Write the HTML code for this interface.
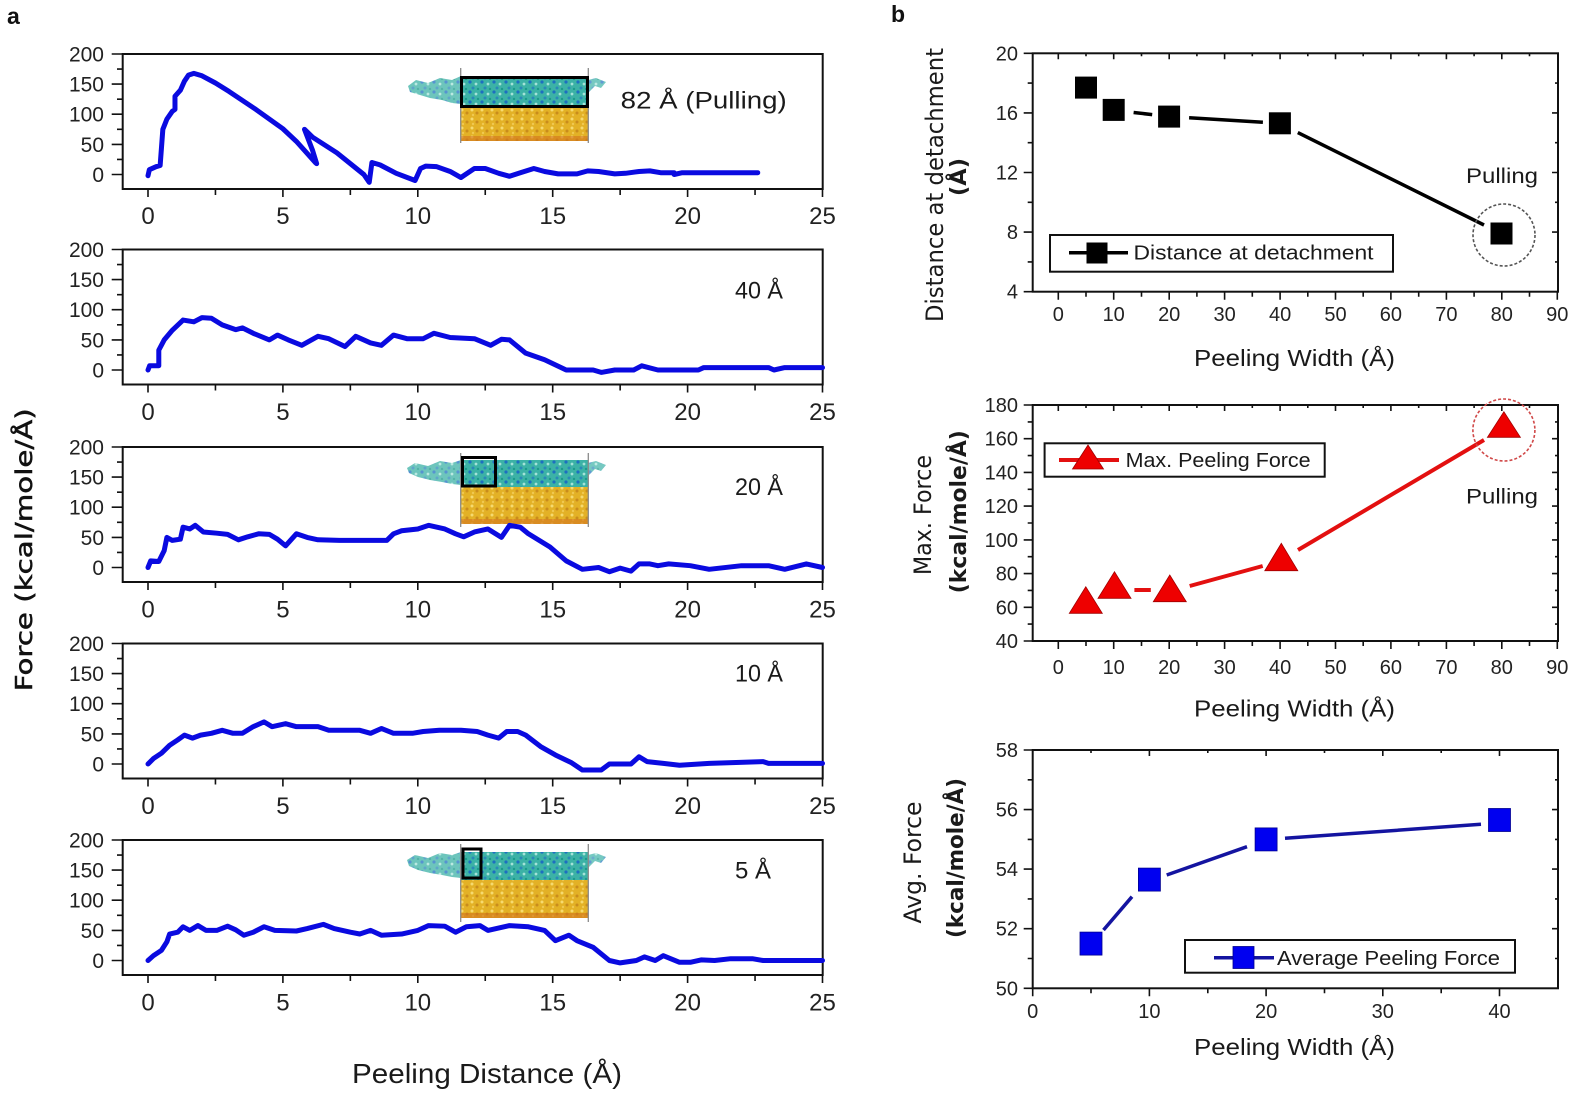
<!DOCTYPE html>
<html><head><meta charset="utf-8"><style>
html,body{margin:0;padding:0;background:#fff;}
svg{display:block;}
.tk{font-family:"Liberation Sans",sans-serif;fill:#222;}
</style></head><body>
<svg width="1575" height="1099" viewBox="0 0 1575 1099" xmlns="http://www.w3.org/2000/svg">
<defs>
<pattern id="cy" width="12" height="10" patternUnits="userSpaceOnUse">
<rect width="12" height="10" fill="#3cb2a6"/>
<circle cx="2" cy="2" r="1.6" fill="#1d6fc0"/>
<circle cx="8" cy="4" r="1.4" fill="#a4e2d8"/>
<circle cx="5" cy="8" r="1.5" fill="#2a88b8"/>
<circle cx="10" cy="9" r="1.2" fill="#1b9a8a"/>
</pattern>
<pattern id="au" width="10" height="9" patternUnits="userSpaceOnUse">
<rect width="10" height="9" fill="#e3b126"/>
<circle cx="2" cy="2" r="1.5" fill="#f6da70"/>
<circle cx="7" cy="5" r="1.5" fill="#c98c1c"/>
<circle cx="3" cy="7" r="1.2" fill="#f0c850"/>
</pattern>
</defs>
<rect width="1575" height="1099" fill="#fff"/>

<!-- panel labels -->
<text x="7" y="24" font-family="Liberation Sans,sans-serif" font-weight="bold" font-size="23" fill="#111">a</text>
<text x="891" y="22" font-family="Liberation Sans,sans-serif" font-weight="bold" font-size="23" fill="#111">b</text>

<!-- ============ LEFT PANEL ============ -->
<g stroke="#111" fill="none">
<!-- plot boxes -->
<rect x="122.7" y="54" width="700" height="135" stroke-width="2"/>
<rect x="122.7" y="249.5" width="700" height="135" stroke-width="2"/>
<rect x="122.7" y="447" width="700" height="135" stroke-width="2"/>
<rect x="122.7" y="643.5" width="700" height="135" stroke-width="2"/>
<rect x="122.7" y="840" width="700" height="135" stroke-width="2"/>
</g>
<g stroke="#111" stroke-width="1.6">
<!-- P1 y ticks -->
<path d="M111.7 54H122.7M111.7 84.1H122.7M111.7 114.2H122.7M111.7 144.4H122.7M111.7 174.5H122.7M117 69.05H122.7M117 99.15H122.7M117 129.3H122.7M117 159.45H122.7"/>
<path d="M148 189V197M282.9 189V197M417.8 189V197M552.7 189V197M687.6 189V197M822.5 189V197M215.45 189V195M350.35 189V195M485.25 189V195M620.15 189V195M755.05 189V195"/>
<!-- P2 -->
<path d="M111.7 249.5H122.7M111.7 279.6H122.7M111.7 309.7H122.7M111.7 339.9H122.7M111.7 370H122.7M117 264.55H122.7M117 294.65H122.7M117 324.8H122.7M117 354.95H122.7"/>
<path d="M148 384.5V392.5M282.9 384.5V392.5M417.8 384.5V392.5M552.7 384.5V392.5M687.6 384.5V392.5M822.5 384.5V392.5M215.45 384.5V390.5M350.35 384.5V390.5M485.25 384.5V390.5M620.15 384.5V390.5M755.05 384.5V390.5"/>
<!-- P3 -->
<path d="M111.7 447H122.7M111.7 477.1H122.7M111.7 507.2H122.7M111.7 537.4H122.7M111.7 567.5H122.7M117 462.05H122.7M117 492.15H122.7M117 522.3H122.7M117 552.45H122.7"/>
<path d="M148 582V590M282.9 582V590M417.8 582V590M552.7 582V590M687.6 582V590M822.5 582V590M215.45 582V588M350.35 582V588M485.25 582V588M620.15 582V588M755.05 582V588"/>
<!-- P4 -->
<path d="M111.7 643.5H122.7M111.7 673.6H122.7M111.7 703.7H122.7M111.7 733.9H122.7M111.7 764H122.7M117 658.55H122.7M117 688.65H122.7M117 718.8H122.7M117 748.95H122.7"/>
<path d="M148 778.5V786.5M282.9 778.5V786.5M417.8 778.5V786.5M552.7 778.5V786.5M687.6 778.5V786.5M822.5 778.5V786.5M215.45 778.5V784.5M350.35 778.5V784.5M485.25 778.5V784.5M620.15 778.5V784.5M755.05 778.5V784.5"/>
<!-- P5 -->
<path d="M111.7 840H122.7M111.7 870.1H122.7M111.7 900.2H122.7M111.7 930.4H122.7M111.7 960.5H122.7M117 855.05H122.7M117 885.15H122.7M117 915.3H122.7M117 945.45H122.7"/>
<path d="M148 975V983M282.9 975V983M417.8 975V983M552.7 975V983M687.6 975V983M822.5 975V983M215.45 975V981M350.35 975V981M485.25 975V981M620.15 975V981M755.05 975V981"/>
</g>

<!-- Left y tick labels -->
<g class="tk" font-size="21" text-anchor="end">
<text x="104" y="61.5">200</text><text x="104" y="91.6">150</text><text x="104" y="121.7">100</text><text x="104" y="151.9">50</text><text x="104" y="182">0</text>
<text x="104" y="257">200</text><text x="104" y="287.1">150</text><text x="104" y="317.2">100</text><text x="104" y="347.4">50</text><text x="104" y="377.5">0</text>
<text x="104" y="454.5">200</text><text x="104" y="484.6">150</text><text x="104" y="514.7">100</text><text x="104" y="544.9">50</text><text x="104" y="575">0</text>
<text x="104" y="651">200</text><text x="104" y="681.1">150</text><text x="104" y="711.2">100</text><text x="104" y="741.4">50</text><text x="104" y="771.5">0</text>
<text x="104" y="847.5">200</text><text x="104" y="877.6">150</text><text x="104" y="907.7">100</text><text x="104" y="937.9">50</text><text x="104" y="968">0</text>
</g>
<!-- Left x tick labels -->
<g class="tk" font-size="24" text-anchor="middle">
<text x="148" y="224">0</text><text x="282.9" y="224">5</text><text x="417.8" y="224">10</text><text x="552.7" y="224">15</text><text x="687.6" y="224">20</text><text x="822.5" y="224">25</text>
<text x="148" y="420">0</text><text x="282.9" y="420">5</text><text x="417.8" y="420">10</text><text x="552.7" y="420">15</text><text x="687.6" y="420">20</text><text x="822.5" y="420">25</text>
<text x="148" y="617.5">0</text><text x="282.9" y="617.5">5</text><text x="417.8" y="617.5">10</text><text x="552.7" y="617.5">15</text><text x="687.6" y="617.5">20</text><text x="822.5" y="617.5">25</text>
<text x="148" y="814">0</text><text x="282.9" y="814">5</text><text x="417.8" y="814">10</text><text x="552.7" y="814">15</text><text x="687.6" y="814">20</text><text x="822.5" y="814">25</text>
<text x="148" y="1010.5">0</text><text x="282.9" y="1010.5">5</text><text x="417.8" y="1010.5">10</text><text x="552.7" y="1010.5">15</text><text x="687.6" y="1010.5">20</text><text x="822.5" y="1010.5">25</text>
</g>

<!-- Insets -->
<!-- P1 inset -->
<g>
<polygon points="408,86 416,80 428,83 440,78 452,80 461,76 461,104 452,103 442,100 430,98 420,95 410,92" fill="url(#cy)" opacity="0.75"/>
<polygon points="588,80 596,78 606,82 601,88 595,86 588,93" fill="url(#cy)" opacity="0.7"/>
<rect x="461" y="76" width="127" height="31" fill="url(#cy)"/>
<rect x="461" y="107" width="127" height="34" fill="url(#au)"/>
<rect x="461" y="136" width="127" height="5" fill="#d2731e" opacity="0.6"/>
<path d="M460.7 68V143M588.3 68V143" stroke="#8a8a8a" stroke-width="1.3"/>
<rect x="461.5" y="77.5" width="126" height="29" fill="none" stroke="#000" stroke-width="3"/>
</g>
<!-- P3 inset -->
<g>
<polygon points="407,468 415,463 428,466 440,461 452,463 461,460 461,485 452,484 442,482 430,480 418,477 409,473" fill="url(#cy)" opacity="0.75"/>
<polygon points="588,463 596,461 606,465 601,471 595,469 588,476" fill="url(#cy)" opacity="0.7"/>
<rect x="461" y="460" width="127" height="27" fill="url(#cy)"/>
<rect x="461" y="487" width="127" height="37" fill="url(#au)"/>
<rect x="461" y="519" width="127" height="5" fill="#d2731e" opacity="0.6"/>
<path d="M460.7 453V527M588.3 453V527" stroke="#8a8a8a" stroke-width="1.3"/>
<rect x="462.5" y="457.5" width="33" height="28.5" fill="none" stroke="#000" stroke-width="3"/>
</g>
<!-- P5 inset -->
<g>
<polygon points="407,860 415,855 428,858 440,853 452,855 461,852 461,878 452,877 442,875 430,873 418,870 409,866" fill="url(#cy)" opacity="0.75"/>
<polygon points="588,855 596,853 606,857 601,863 595,861 588,868" fill="url(#cy)" opacity="0.7"/>
<rect x="461" y="852" width="127" height="28" fill="url(#cy)"/>
<rect x="461" y="880" width="127" height="38" fill="url(#au)"/>
<rect x="461" y="913" width="127" height="5" fill="#d2731e" opacity="0.6"/>
<path d="M460.7 844V922M588.3 844V922" stroke="#8a8a8a" stroke-width="1.3"/>
<rect x="463" y="849" width="18" height="29" fill="none" stroke="#000" stroke-width="3"/>
</g>

<!-- Curves -->
<g fill="none" stroke="#0a0ae0" stroke-width="5" stroke-linejoin="round" stroke-linecap="round">
<polyline vector-effect="non-scaling-stroke" transform="translate(148,174.5) scale(26.98,-0.602)" points="0,-2 0.05,8 0.3,13 0.45,15 0.5,45 0.55,75 0.7,92 0.9,105 1.0,108 1.0,130 1.2,140 1.35,155 1.5,165 1.7,168 2.0,164 2.5,152 3,138 4,108 5,76 5.5,55 6.2,20 6.25,18 6.1,40 5.8,75 6.1,62 7,36 8,0 8.2,-13 8.3,20 8.6,16 9.2,2 9.9,-10 10.1,10 10.3,14 10.7,13 11.2,5 11.6,-5 12.1,10 12.5,10 13,2 13.4,-3 13.8,3 14.3,10 14.7,5 15.2,1 15.9,1 16.3,6 16.7,5 17.3,1 17.7,2 18.2,5 18.6,6 19,3 19.5,3 19.5,0 19.8,3 22.6,3"/>
<polyline vector-effect="non-scaling-stroke" transform="translate(148,370) scale(26.98,-0.602)" points="0,0 0.06,7 0.4,7 0.4,33 0.6,50 0.9,66 1.3,83 1.7,80 2,87 2.35,86 2.75,75 3.25,67 3.5,70 3.9,61 4.5,50 4.8,58 5.2,50 5.7,41 6.3,56 6.7,52 7.3,39 7.7,56 8.25,45 8.65,41 9.1,58 9.6,52 10.2,52 10.6,61 11.2,54 12.1,52 12.7,41 13.1,51 13.4,50 14,28 14.7,17 15.5,0 16.5,0 16.8,-4 17.3,0 18,0 18.3,7 18.9,0 20.4,0 20.6,4 23,4 23.2,0 23.6,4 25,4"/>
<polyline vector-effect="non-scaling-stroke" transform="translate(148,567.5) scale(26.98,-0.602)" points="0,0 0.1,11 0.4,10 0.6,28 0.7,50 0.9,45 1.2,47 1.3,67 1.55,64 1.75,70 2.05,59 2.55,57 2.95,55 3.35,46 3.7,51 4.1,56 4.5,55 4.8,47 5.1,36 5.5,56 5.9,50 6.3,46 7.1,45 8.85,45 9.1,56 9.4,61 10,64 10.4,70 11,64 11.4,56 11.7,51 12.1,59 12.6,64 13.1,50 13.4,70 13.8,67 14.1,56 14.9,34 15.5,11 16.1,-3 16.7,0 17.1,-7 17.5,-1 17.9,-6 18.2,6 18.6,6 18.9,3 19.3,6 20.1,3 20.8,-3 22,3 23,3 23.6,-3 24.4,6 25,0"/>
<polyline vector-effect="non-scaling-stroke" transform="translate(148,764) scale(26.98,-0.602)" points="0,0 0.2,9 0.5,18 0.8,31 1.1,40 1.35,48 1.65,43 1.95,48 2.35,51 2.75,56 3.15,51 3.5,51 3.9,62 4.3,70 4.6,62 5.1,67 5.5,62 6.3,62 6.7,56 7.85,56 8.25,51 8.65,59 9.1,51 9.8,51 10.2,54 10.8,56 11.6,56 12.2,54 12.6,48 13,43 13.3,54 13.7,54 14,48 14.55,29 15.1,15 15.7,2 16.1,-10 16.8,-10 17.1,0 17.9,0 18.2,12 18.5,4 19.1,1 19.7,-2 20.8,1 22.8,4 23,1 25,1"/>
<polyline vector-effect="non-scaling-stroke" transform="translate(148,960.5) scale(26.98,-0.602)" points="0,0 0.2,8 0.5,17 0.7,31 0.8,44 1.1,47 1.3,56 1.55,50 1.85,58 2.15,50 2.55,50 2.95,57 3.25,51 3.55,42 3.9,47 4.3,56 4.7,50 5.5,49 5.9,53 6.5,60 6.9,53 7.5,47 7.85,44 8.25,50 8.65,42 9.4,44 10,50 10.4,58 11,57 11.4,47 11.8,56 12.3,58 12.6,50 13.4,58 14.1,56 14.7,50 15.1,33 15.6,42 15.9,33 16.5,22 17.1,0 17.5,-4 18.1,0 18.4,6 18.8,0 19.1,8 19.7,-3 20.1,-3 20.5,1 21,0 21.6,3 22.4,3 22.8,0 25,0"/>
</g>

<!-- Left labels -->
<g font-family="Liberation Sans,sans-serif" fill="#1a1a1a">
<text x="620.7" y="108.3" font-size="24" textLength="166" lengthAdjust="spacingAndGlyphs">82 Å (Pulling)</text>
<text x="735" y="298.3" font-size="24" textLength="48" lengthAdjust="spacingAndGlyphs">40 Å</text>
<text x="735" y="495" font-size="24" textLength="48" lengthAdjust="spacingAndGlyphs">20 Å</text>
<text x="735" y="681.7" font-size="24" textLength="48" lengthAdjust="spacingAndGlyphs">10 Å</text>
<text x="735" y="878.3" font-size="24" textLength="36" lengthAdjust="spacingAndGlyphs">5 Å</text>
<text x="352" y="1083" font-size="28" textLength="270" lengthAdjust="spacingAndGlyphs">Peeling Distance (Å)</text>
</g>
<text transform="translate(32,549.8) rotate(-90)" text-anchor="middle" font-family="DejaVu Sans,sans-serif" font-size="23" fill="#111" stroke="#111" stroke-width="0.5" textLength="283" lengthAdjust="spacingAndGlyphs">Force (kcal/mole/Å)</text>

<!-- ============ RIGHT PANEL ============ -->
<g stroke="#111" fill="none" stroke-width="2">
<rect x="1032.7" y="53.3" width="525.3" height="238.4"/>
<rect x="1032.7" y="405" width="525.3" height="236"/>
<rect x="1032.7" y="750" width="525.3" height="238.3"/>
</g>
<g stroke="#111" stroke-width="1.6">
<!-- R1 y ticks -->
<path d="M1023.7 291.7H1032.7M1023.7 232.1H1032.7M1023.7 172.5H1032.7M1023.7 112.9H1032.7M1023.7 53.3H1032.7M1027.7 261.9H1032.7M1027.7 202.3H1032.7M1027.7 142.7H1032.7M1027.7 83.1H1032.7"/>
<path d="M1558 232.1H1552M1558 172.5H1552M1558 112.9H1552M1558 261.9H1555M1558 202.3H1555M1558 142.7H1555M1558 83.1H1555"/>
<path d="M1058.3 291.7V299.7M1113.7 291.7V299.7M1169.2 291.7V299.7M1224.6 291.7V299.7M1280.1 291.7V299.7M1335.5 291.7V299.7M1390.9 291.7V299.7M1446.4 291.7V299.7M1501.8 291.7V299.7M1557.3 291.7V299.7M1086 291.7V296.7M1141.5 291.7V296.7M1196.9 291.7V296.7M1252.3 291.7V296.7M1307.8 291.7V296.7M1363.2 291.7V296.7M1418.7 291.7V296.7M1474.1 291.7V296.7M1529.5 291.7V296.7"/>
<path d="M1058.3 53.3V59.3M1113.7 53.3V59.3M1169.2 53.3V59.3M1224.6 53.3V59.3M1280.1 53.3V59.3M1335.5 53.3V59.3M1390.9 53.3V59.3M1446.4 53.3V59.3M1501.8 53.3V59.3M1086 53.3V56.3M1141.5 53.3V56.3M1196.9 53.3V56.3M1252.3 53.3V56.3M1307.8 53.3V56.3M1363.2 53.3V56.3M1418.7 53.3V56.3M1474.1 53.3V56.3M1529.5 53.3V56.3"/>
<!-- R2 -->
<path d="M1023.7 641H1032.7M1023.7 607.3H1032.7M1023.7 573.6H1032.7M1023.7 539.9H1032.7M1023.7 506.1H1032.7M1023.7 472.4H1032.7M1023.7 438.7H1032.7M1023.7 405H1032.7M1027.7 624.1H1032.7M1027.7 590.4H1032.7M1027.7 556.7H1032.7M1027.7 523H1032.7M1027.7 489.3H1032.7M1027.7 455.6H1032.7M1027.7 421.9H1032.7"/>
<path d="M1558 607.3H1552M1558 573.6H1552M1558 539.9H1552M1558 506.1H1552M1558 472.4H1552M1558 438.7H1552M1558 624.1H1555M1558 590.4H1555M1558 556.7H1555M1558 523H1555M1558 489.3H1555M1558 455.6H1555M1558 421.9H1555"/>
<path d="M1058.3 641V649M1113.7 641V649M1169.2 641V649M1224.6 641V649M1280.1 641V649M1335.5 641V649M1390.9 641V649M1446.4 641V649M1501.8 641V649M1557.3 641V649M1086 641V646M1141.5 641V646M1196.9 641V646M1252.3 641V646M1307.8 641V646M1363.2 641V646M1418.7 641V646M1474.1 641V646M1529.5 641V646"/>
<path d="M1058.3 405V411M1113.7 405V411M1169.2 405V411M1224.6 405V411M1280.1 405V411M1335.5 405V411M1390.9 405V411M1446.4 405V411M1501.8 405V411M1086 405V408M1141.5 405V408M1196.9 405V408M1252.3 405V408M1307.8 405V408M1363.2 405V408M1418.7 405V408M1474.1 405V408M1529.5 405V408"/>
<!-- R3 -->
<path d="M1023.7 988.3H1032.7M1023.7 928.7H1032.7M1023.7 869.1H1032.7M1023.7 809.6H1032.7M1023.7 750H1032.7M1027.7 958.5H1032.7M1027.7 898.9H1032.7M1027.7 839.4H1032.7M1027.7 779.8H1032.7"/>
<path d="M1558 928.7H1552M1558 869.1H1552M1558 809.6H1552M1558 958.5H1555M1558 898.9H1555M1558 839.4H1555M1558 779.8H1555"/>
<path d="M1032.7 988.3V996.3M1149.4 988.3V996.3M1266.1 988.3V996.3M1382.8 988.3V996.3M1499.5 988.3V996.3M1091 988.3V993.3M1207.8 988.3V993.3M1324.5 988.3V993.3M1441.2 988.3V993.3"/>
<path d="M1149.4 750V756M1266.1 750V756M1382.8 750V756M1499.5 750V756M1091 750V753M1207.8 750V753M1324.5 750V753M1441.2 750V753"/>
</g>

<!-- Right tick labels -->
<g class="tk" font-size="20" text-anchor="end">
<text x="1018" y="298.7">4</text><text x="1018" y="239.1">8</text><text x="1018" y="179.5">12</text><text x="1018" y="119.9">16</text><text x="1018" y="60.3">20</text>
<text x="1018" y="648">40</text><text x="1018" y="614.3">60</text><text x="1018" y="580.6">80</text><text x="1018" y="546.9">100</text><text x="1018" y="513.1">120</text><text x="1018" y="479.4">140</text><text x="1018" y="445.7">160</text><text x="1018" y="412">180</text>
<text x="1018" y="995.3">50</text><text x="1018" y="935.7">52</text><text x="1018" y="876.1">54</text><text x="1018" y="816.6">56</text><text x="1018" y="757">58</text>
</g>
<g class="tk" font-size="20" text-anchor="middle">
<text x="1058.3" y="321">0</text><text x="1113.7" y="321">10</text><text x="1169.2" y="321">20</text><text x="1224.6" y="321">30</text><text x="1280.1" y="321">40</text><text x="1335.5" y="321">50</text><text x="1390.9" y="321">60</text><text x="1446.4" y="321">70</text><text x="1501.8" y="321">80</text><text x="1557.3" y="321">90</text>
<text x="1058.3" y="674">0</text><text x="1113.7" y="674">10</text><text x="1169.2" y="674">20</text><text x="1224.6" y="674">30</text><text x="1280.1" y="674">40</text><text x="1335.5" y="674">50</text><text x="1390.9" y="674">60</text><text x="1446.4" y="674">70</text><text x="1501.8" y="674">80</text><text x="1557.3" y="674">90</text>
<text x="1032.7" y="1018">0</text><text x="1149.4" y="1018">10</text><text x="1266.1" y="1018">20</text><text x="1382.8" y="1018">30</text><text x="1499.5" y="1018">40</text>
</g>

<!-- R1 data -->
<g stroke="#000" stroke-width="3.5" fill="none">
<path d="M1133.6 112.5L1152.2 114.6M1189.1 117.8L1262.9 122.3M1297.8 132.6L1484 225"/>
</g>
<g fill="#000">
<rect x="1075" y="76.6" width="22" height="22"/>
<rect x="1102.7" y="98.9" width="22" height="22"/>
<rect x="1158.1" y="105.6" width="22" height="22"/>
<rect x="1268.9" y="112.3" width="22" height="22"/>
<rect x="1490.5" y="222.5" width="22" height="22"/>
</g>
<ellipse cx="1504" cy="235" rx="31" ry="31" fill="none" stroke="#555" stroke-width="1.6" stroke-dasharray="3,2"/>
<text x="1466" y="183" font-family="Liberation Sans,sans-serif" font-size="21" fill="#1a1a1a" textLength="72" lengthAdjust="spacingAndGlyphs">Pulling</text>
<!-- R1 legend -->
<rect x="1050" y="235" width="343" height="36.7" fill="#fff" stroke="#111" stroke-width="2"/>
<path d="M1069 252.7H1128" stroke="#000" stroke-width="3.5"/>
<rect x="1086.5" y="242.5" width="21" height="21" fill="#000"/>
<text x="1133.5" y="259.5" font-family="Liberation Sans,sans-serif" font-size="20" fill="#1a1a1a" textLength="240" lengthAdjust="spacingAndGlyphs">Distance at detachment</text>

<!-- R2 data -->
<g stroke="#e31010" stroke-width="4" fill="none">
<path d="M1134.4 590L1150.8 590M1189.7 586L1262.7 566M1298 550L1484 440"/>
</g>
<g fill="#ee0000" stroke="#a00000" stroke-width="0.8">
<polygon points="1085.8,586.7 1069.3,613.3 1102.3,613.3"/>
<polygon points="1114.5,571.7 1098,598.3 1131,598.3"/>
<polygon points="1169.8,575 1153.3,601.7 1186.3,601.7"/>
<polygon points="1281.3,543.3 1264.8,570.7 1297.8,570.7"/>
<polygon points="1503.9,411.7 1487.4,437.3 1520.4,437.3"/>
</g>
<ellipse cx="1503.9" cy="430" rx="31" ry="31" fill="none" stroke="#d04848" stroke-width="1.6" stroke-dasharray="3,2"/>
<text x="1466" y="503.3" font-family="Liberation Sans,sans-serif" font-size="21" fill="#1a1a1a" textLength="72" lengthAdjust="spacingAndGlyphs">Pulling</text>
<!-- R2 legend -->
<rect x="1044.6" y="443.3" width="280.1" height="33.4" fill="#fff" stroke="#111" stroke-width="2"/>
<path d="M1059 460H1119" stroke="#e31010" stroke-width="4"/>
<polygon points="1088,445 1072.5,469 1103.5,469" fill="#ee0000" stroke="#a00000" stroke-width="0.8"/>
<text x="1125.6" y="467" font-family="Liberation Sans,sans-serif" font-size="20" fill="#1a1a1a" textLength="185" lengthAdjust="spacingAndGlyphs">Max. Peeling Force</text>

<!-- R3 data -->
<g stroke="#1414a0" stroke-width="3.5" fill="none">
<path d="M1103.5 930L1132 896.7M1166.7 875L1247 846.7M1285 838.3L1481 824.3"/>
</g>
<g fill="#0000f0" stroke="#000090" stroke-width="0.8">
<rect x="1080" y="932.1" width="22" height="23"/>
<rect x="1138.4" y="868.1" width="22" height="23"/>
<rect x="1255.1" y="827.9" width="22" height="23"/>
<rect x="1488.5" y="808.5" width="22" height="23"/>
</g>
<!-- R3 legend -->
<rect x="1185" y="940" width="330" height="32.7" fill="#fff" stroke="#111" stroke-width="2"/>
<path d="M1214 957.7H1274" stroke="#1414a0" stroke-width="3.5"/>
<rect x="1233" y="946.5" width="21" height="22" fill="#0000f0" stroke="#000090" stroke-width="0.8"/>
<text x="1277" y="965" font-family="Liberation Sans,sans-serif" font-size="20" fill="#1a1a1a" textLength="223" lengthAdjust="spacingAndGlyphs">Average Peeling Force</text>

<!-- Right axis titles -->
<g font-family="Liberation Sans,sans-serif" fill="#1a1a1a" font-size="23">
<text x="1194" y="366" textLength="201" lengthAdjust="spacingAndGlyphs">Peeling Width (Å)</text>
<text x="1194" y="716.7" textLength="201" lengthAdjust="spacingAndGlyphs">Peeling Width (Å)</text>
<text x="1194" y="1055" textLength="201" lengthAdjust="spacingAndGlyphs">Peeling Width (Å)</text>
</g>
<g font-family="DejaVu Sans,sans-serif" fill="#1a1a1a" text-anchor="middle">
<text transform="translate(943,185) rotate(-90)" font-size="24" textLength="274" lengthAdjust="spacingAndGlyphs">Distance at detachment</text>
<text transform="translate(966,177) rotate(-90)" font-size="22" font-weight="bold" textLength="38" lengthAdjust="spacingAndGlyphs">(Å)</text>
<text transform="translate(931,515) rotate(-90)" font-size="24" textLength="120" lengthAdjust="spacingAndGlyphs">Max. Force</text>
<text transform="translate(966,511.7) rotate(-90)" font-size="22" font-weight="bold" textLength="163" lengthAdjust="spacingAndGlyphs">(kcal/mole/Å)</text>
<text transform="translate(921,862.5) rotate(-90)" font-size="24" textLength="122" lengthAdjust="spacingAndGlyphs">Avg. Force</text>
<text transform="translate(963,858) rotate(-90)" font-size="22" font-weight="bold" textLength="160" lengthAdjust="spacingAndGlyphs">(kcal/mole/Å)</text>
</g>
</svg>
</body></html>
